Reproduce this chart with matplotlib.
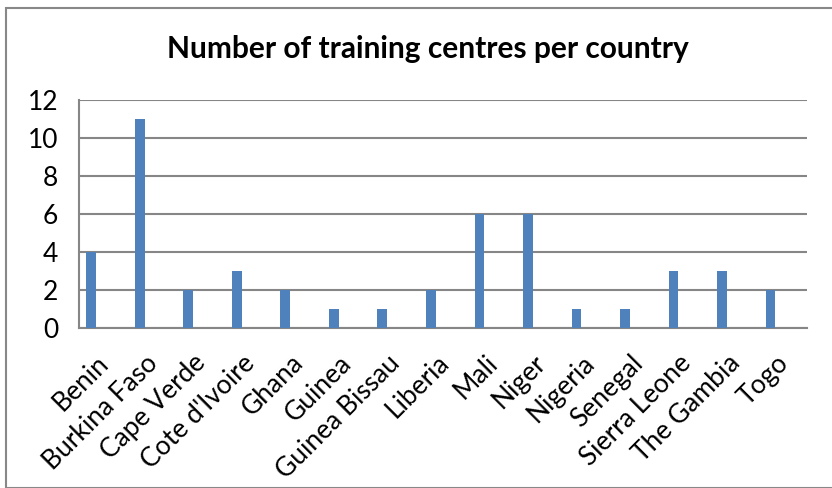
import numpy as np
import matplotlib.pyplot as plt
from matplotlib.patches import Rectangle
from matplotlib.transforms import ScaledTranslation

countries = ['Benin', 'Burkina Faso', 'Cape Verde', "Cote d'Ivoire", 'Ghana', 'Guinea',
             'Guinea Bissau', 'Liberia', 'Mali', 'Niger', 'Nigeria', 'Senegal',
             'Sierra Leone', 'The Gambia', 'Togo']
centres = [4, 11, 2, 3, 2, 1, 1, 2, 6, 6, 1, 1, 3, 3, 2]
yticks = [0, 2, 4, 6, 8, 10, 12]

plt.rcParams['font.family'] = ['Lato', 'DejaVu Sans']

fig = plt.figure(figsize=(8.32, 4.88), dpi=100)
fig.patches.append(Rectangle((6/832, 0), 1, 1 - 8/488, transform=fig.transFigure,
                             fill=False, edgecolor='#888888', linewidth=1.5))

ax = fig.add_axes([79/832, 1 - 328/488, 728/832, 228/488])
x = np.arange(len(countries))
ax.bar(x - 0.25, centres, width=0.2, color='#4F81BD', zorder=3)

ax.set_xlim(-0.5, len(countries) - 0.5)
ax.set_ylim(0, 12)
ax.set_yticks(yticks)
ax.set_yticklabels([str(v) for v in yticks], fontsize=19)
ax.tick_params(axis='y', length=0, pad=15)
ax.set_xticks(x)
ax.set_xticklabels(countries, rotation=45, ha='right', rotation_mode='anchor', fontsize=19)
ax.tick_params(axis='x', length=0, pad=16)
shift = ScaledTranslation(-7/100, 0, fig.dpi_scale_trans)
for lab in ax.get_xticklabels():
    lab.set_transform(lab.get_transform() + shift)
ax.grid(axis='y', color='#868686', linewidth=1.5, zorder=0)
for s in ['top', 'right']:
    ax.spines[s].set_visible(False)
ax.spines['left'].set_color('#868686')
ax.spines['bottom'].set_color('#868686')
ax.spines['left'].set_linewidth(1.5)
ax.spines['bottom'].set_linewidth(1.5)

fig.text(428/832, 1 - 49/488, 'Number of training centres per country',
         ha='center', va='center', fontsize=21.5, fontweight='bold')

fig.savefig('out.png', dpi=100)
